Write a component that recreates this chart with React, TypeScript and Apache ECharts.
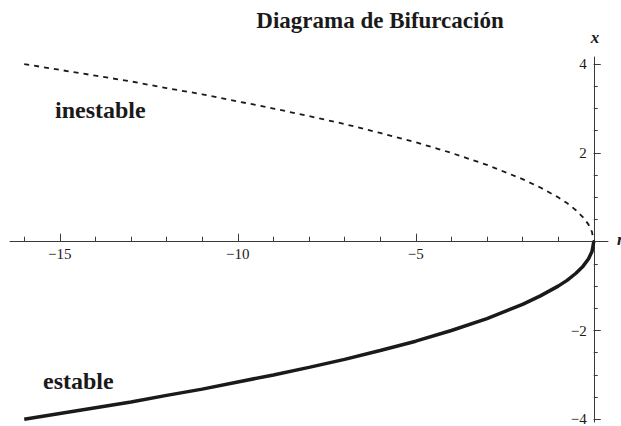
import React, { useEffect, useRef } from "react";
import * as echarts from "echarts";

// Parameter r along the horizontal axis
const rValues = [
  -16, -15, -14, -13, -12, -11, -10, -9, -8, -7, -6, -5, -4, -3, -2, -1.5, -1,
  -0.75, -0.5, -0.3, -0.15, -0.05, 0,
];
// Upper (unstable) branch of equilibria
const unstableX = [
  4, 3.87, 3.74, 3.61, 3.46, 3.32, 3.16, 3, 2.83, 2.65, 2.45, 2.24, 2, 1.73,
  1.41, 1.22, 1, 0.87, 0.71, 0.55, 0.39, 0.22, 0,
];
// Lower (stable) branch of equilibria
const stableX = [
  -4, -3.87, -3.74, -3.61, -3.46, -3.32, -3.16, -3, -2.83, -2.65, -2.45, -2.24,
  -2, -1.73, -1.41, -1.22, -1, -0.87, -0.71, -0.55, -0.39, -0.22, 0,
];

const rMinorTicks = [
  -16, -15, -14, -13, -12, -11, -10, -9, -8, -7, -6, -5, -4, -3, -2, -1, 0,
];
const rMajorTicks = [-15, -10, -5];
const xMinorTicks = [
  -4, -3.5, -3, -2.5, -2, -1.5, -1, -0.5, 0.5, 1, 1.5, 2, 2.5, 3, 3.5, 4,
];
const xMajorTicks = [-4, -2, 2, 4];

const titleText = "Diagrama de Bifurcación";
const unstableLabel = "inestable";
const stableLabel = "estable";

const R_MIN = -16.4;
const R_MAX = 0.4;
const X_MIN = -4.06;
const X_MAX = 4.16;

const FONT = "Liberation Serif";
const INK = "#1a1a1a";
const AXIS = "#3a3a3a";

const minus = (v: number | string) => String(v).replace("-", "\u2212");

export default function App() {
  const ref = useRef<HTMLDivElement>(null);

  useEffect(() => {
    if (!ref.current) return;
    document.body.style.margin = "0";
    const chart = echarts.init(ref.current, null, { renderer: "svg" });

    const tickStyle = { color: AXIS, width: 1 };

    chart.setOption({
      animation: false,
      backgroundColor: "#ffffff",
      grid: {
        left: 10,
        right: 13,
        top: 57,
        bottom: 4,
        containLabel: false,
        outerBoundsMode: "none",
      },
      xAxis: [
        {
          // minor ticks, sits on x = 0
          type: "value",
          min: R_MIN,
          max: R_MAX,
          axisLine: { onZero: true, lineStyle: { color: AXIS, width: 1 } },
          splitLine: { show: false },
          axisTick: {
            inside: true,
            length: 5,
            customValues: rMinorTicks,
            lineStyle: tickStyle,
          },
          axisLabel: { show: false },
        },
        {
          // major ticks and labels, shifted onto x = 0 below
          type: "value",
          position: "bottom",
          min: R_MIN,
          max: R_MAX,
          axisLine: { onZero: false, show: false },
          splitLine: { show: false },
          axisTick: {
            inside: true,
            length: 8,
            customValues: rMajorTicks,
            lineStyle: tickStyle,
          },
          axisLabel: {
            customValues: rMajorTicks,
            margin: 5,
            fontFamily: FONT,
            fontSize: 15,
            color: INK,
            formatter: (v: number) => minus(v),
          },
        },
      ],
      yAxis: [
        {
          type: "value",
          min: X_MIN,
          max: X_MAX,
          axisLine: { onZero: true, lineStyle: { color: AXIS, width: 1 } },
          splitLine: { show: false },
          axisTick: {
            inside: true,
            length: 4,
            customValues: xMinorTicks,
            lineStyle: tickStyle,
          },
          axisLabel: { show: false },
        },
        {
          type: "value",
          position: "left",
          min: X_MIN,
          max: X_MAX,
          axisLine: { onZero: false, show: false },
          splitLine: { show: false },
          axisTick: {
            inside: true,
            length: 7,
            customValues: xMajorTicks,
            lineStyle: tickStyle,
          },
          axisLabel: {
            customValues: xMajorTicks,
            margin: 7,
            fontFamily: FONT,
            fontSize: 15,
            color: INK,
            formatter: (v: number) => minus(v),
          },
        },
      ],
      series: [
        {
          type: "line",
          name: unstableLabel,
          xAxisIndex: 0,
          yAxisIndex: 0,
          data: rValues.map((r, i) => [r, unstableX[i]]),
          showSymbol: false,
          smooth: false,
          lineStyle: { color: INK, width: 1.8, type: [5, 5] },
        },
        {
          type: "line",
          name: stableLabel,
          xAxisIndex: 0,
          yAxisIndex: 0,
          data: rValues.map((r, i) => [r, stableX[i]]),
          showSymbol: false,
          smooth: false,
          lineStyle: { color: INK, width: 3.5 },
        },
      ],
      graphic: [
        {
          type: "text",
          x: 380,
          y: 32,
          style: {
            text: titleText,
            fontFamily: FONT,
            fontSize: 23,
            fontWeight: "bold",
            fill: INK,
            align: "center",
            verticalAlign: "bottom",
          },
        },
        {
          type: "text",
          x: 595,
          y: 46,
          style: {
            text: "x",
            fontFamily: FONT,
            fontSize: 17,
            fontWeight: "bold",
            fontStyle: "italic",
            fill: INK,
            align: "center",
            verticalAlign: "bottom",
          },
        },
        {
          type: "text",
          x: 617,
          y: 248,
          style: {
            text: "r",
            fontFamily: FONT,
            fontSize: 17,
            fontWeight: "bold",
            fontStyle: "italic",
            fill: INK,
            align: "left",
            verticalAlign: "bottom",
          },
        },
        {
          type: "text",
          x: 55,
          y: 122,
          style: {
            text: unstableLabel,
            fontFamily: FONT,
            fontSize: 24,
            fontWeight: "bold",
            fill: INK,
            align: "left",
            verticalAlign: "bottom",
          },
        },
        {
          type: "text",
          x: 43,
          y: 393,
          style: {
            text: stableLabel,
            fontFamily: FONT,
            fontSize: 24,
            fontWeight: "bold",
            fill: INK,
            align: "left",
            verticalAlign: "bottom",
          },
        },
      ],
    });

    // Move the labelled axes onto the origin using the axes' own scales.
    const zeroX = chart.convertToPixel({ xAxisIndex: 0 }, 0) as number;
    const leftX = chart.convertToPixel({ xAxisIndex: 0 }, R_MIN) as number;
    const zeroY = chart.convertToPixel({ yAxisIndex: 0 }, 0) as number;
    const bottomY = chart.convertToPixel({ yAxisIndex: 0 }, X_MIN) as number;
    chart.setOption({
      xAxis: [{}, { offset: -(bottomY - zeroY) }],
      yAxis: [{}, { offset: -(zeroX - leftX) }],
    });

    return () => chart.dispose();
  }, []);

  return <div ref={ref} style={{ width: 621, height: 426 }} />;
}
